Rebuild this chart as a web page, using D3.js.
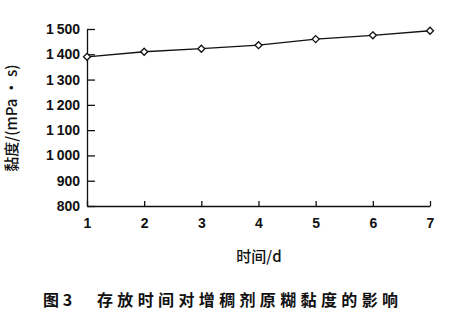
<!DOCTYPE html>
<meta charset="utf-8">
<style>
body { margin: 0; background: #fff; }
.axis text { font: bold 14px 'Liberation Sans', Arial, sans-serif; fill: #111; }
.axis path, .axis line { stroke: #111; stroke-width: 1.3px; }
.line { fill: none; stroke: #111; stroke-width: 1.3px; }
.cjk { font-family: 'Noto Sans CJK SC', sans-serif; fill: #111; }
</style>
<body>
<script src="https://cdnjs.cloudflare.com/ajax/libs/d3/7.8.5/d3.min.js"></script>
<script>
var days = [1, 2, 3, 4, 5, 6, 7];
var viscosity = [1390, 1410, 1422, 1436, 1460, 1475, 1493];
var yTicks = [800, 900, 1000, 1100, 1200, 1300, 1400, 1500];

var margin = {top: 29, right: 29, bottom: 109, left: 87},
    width = 459 - margin.left - margin.right,
    height = 315 - margin.top - margin.bottom;

var svg = d3.select("body").append("svg")
    .attr("width", 459)
    .attr("height", 315);

var g = svg.append("g").attr("transform", "translate(" + margin.left + "," + margin.top + ")");

var x = d3.scaleLinear().domain([1, 7]).range([0, width]),
    y = d3.scaleLinear().domain([800, 1500]).range([height, 0]);

var fmt = function(d) { return d3.format(",")(d).replace(",", "\u2009"); };

g.append("g")
    .attr("class", "axis axis--x")
    .attr("transform", "translate(0," + height + ")")
    .call(d3.axisBottom(x).tickValues(days).tickFormat(d3.format("d"))
      .tickSizeInner(-5).tickSizeOuter(0).tickPadding(12));

g.append("g")
    .attr("class", "axis axis--y")
    .call(d3.axisLeft(y).tickValues(yTicks).tickSizeInner(-8).tickSizeOuter(0).tickPadding(7).tickFormat(fmt));

var line = d3.line()
    .x(function(d, i) { return x(days[i]); })
    .y(function(d) { return y(d); });

g.append("path")
    .datum(viscosity)
    .attr("class", "line")
    .attr("d", line);

g.selectAll(".pt")
    .data(viscosity)
  .enter().append("path")
    .attr("class", "pt")
    .attr("transform", function(d, i) { return "translate(" + x(days[i]) + "," + y(d) + ")"; })
    .attr("d", "M0,-3.5L3.5,0L0,3.5L-3.5,0Z")
    .attr("fill", "#fff")
    .attr("stroke", "#111")
    .attr("stroke-width", 1.3);

svg.append("text")
    .attr("class", "cjk")
    .attr("transform", "translate(17,118) rotate(-90)")
    .attr("text-anchor", "middle")
    .style("font-size", "15px")
    .style("font-weight", "500")
    .text("黏度/(mPa • s)");

svg.append("text")
    .attr("class", "cjk")
    .attr("x", 259)
    .attr("y", 262)
    .attr("text-anchor", "middle")
    .style("font-size", "15px")
    .style("font-weight", "500")
    .text("时间/d");

svg.append("text")
    .attr("class", "cjk")
    .attr("x", 43)
    .attr("y", 306)
    .style("font-size", "16px")
    .style("font-weight", "bold")
    .text("图 3");

svg.append("text")
    .attr("class", "cjk")
    .attr("x", 97)
    .attr("y", 306)
    .attr("textLength", 301)
    .style("font-size", "16px")
    .style("font-weight", "bold")
    .text("存放时间对增稠剂原糊黏度的影响");
</script>
</body>
